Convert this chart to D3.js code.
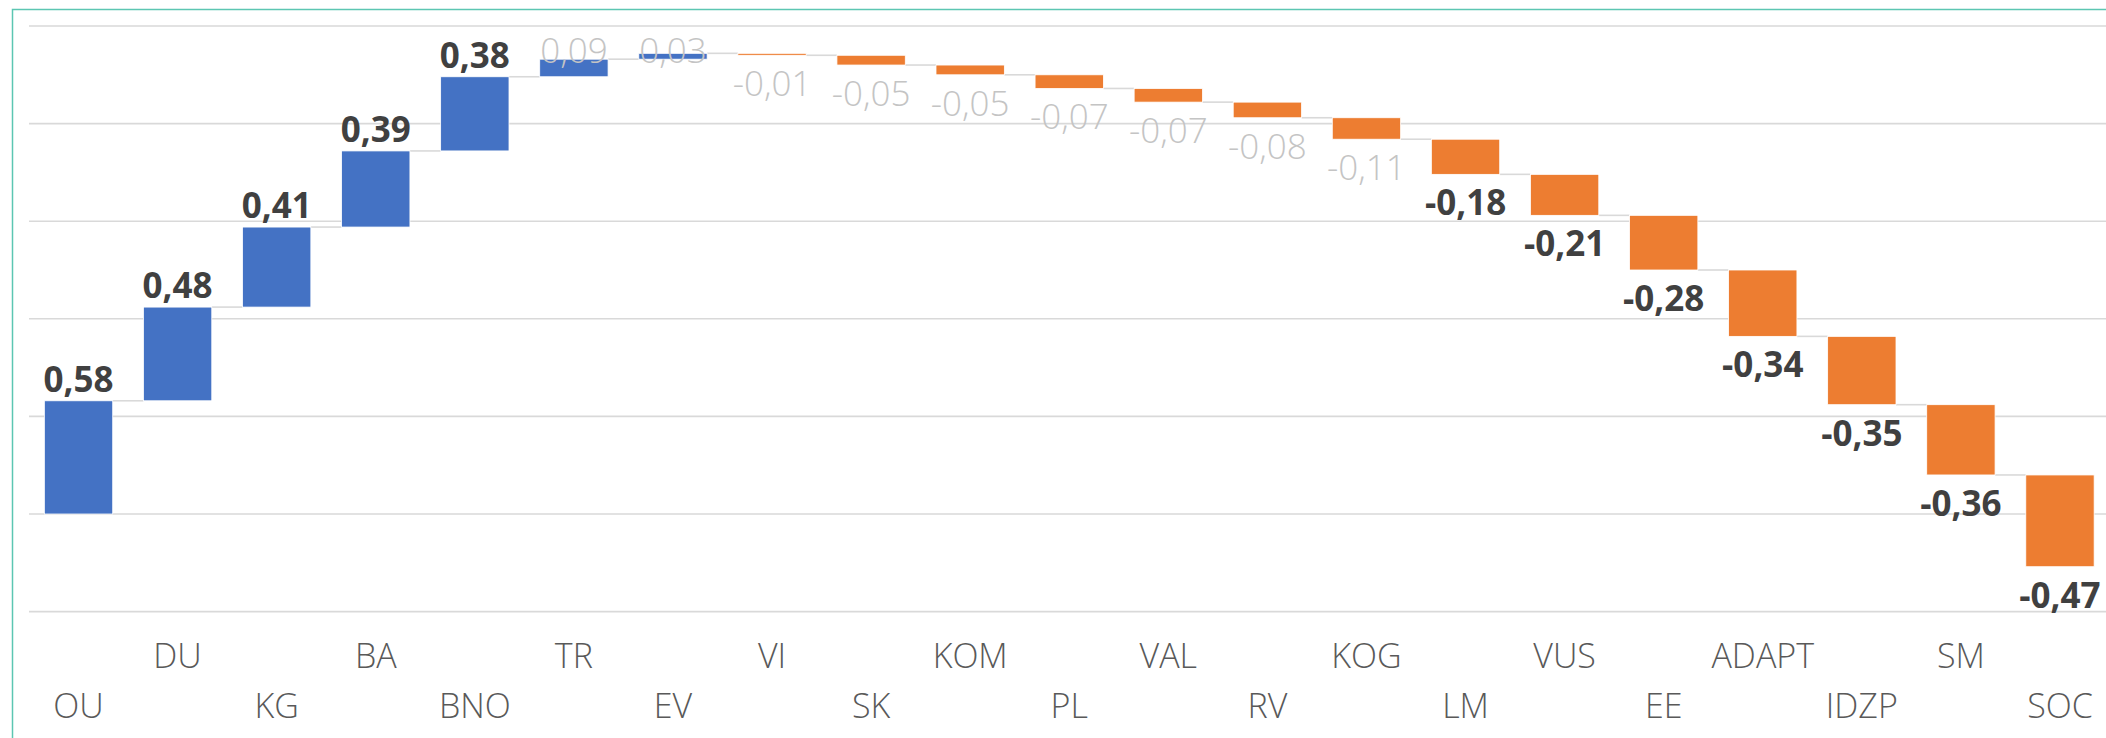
<!DOCTYPE html>
<html>
<head>
<meta charset="utf-8">
<script src="https://cdn.jsdelivr.net/npm/d3@7"></script>
<style>
  body { margin: 0; background: #fff; }
  svg { display: block; font-family: "Open Sans", "Segoe UI", sans-serif; }
</style>
</head>
<body>
<svg id="chart" width="2106" height="738"></svg>
<script>
var categories = ["OU", "DU", "KG", "BA", "BNO", "TR", "EV", "VI", "SK", "KOM", "PL",
                  "VAL", "RV", "KOG", "LM", "VUS", "EE", "ADAPT", "IDZP", "SM", "SOC"];
var values = [0.58, 0.48, 0.41, 0.39, 0.38, 0.09, 0.03, -0.01, -0.05, -0.05, -0.07,
              -0.07, -0.08, -0.11, -0.18, -0.21, -0.28, -0.34, -0.35, -0.36, -0.47];
var gridValues = [-0.5, 0, 0.5, 1, 1.5, 2, 2.5];

var width = 2106;
var height = 738;
var plot = {left: 29, right: 2109.5, top: 26, bottom: 611.6};
var strongThreshold = 0.15;

var svg = d3.select('#chart');

// outer frame, cut off on the right and bottom
svg.append('rect')
  .attr('x', 12.5)
  .attr('y', 9.5)
  .attr('width', width)
  .attr('height', height)
  .attr('fill', 'none')
  .attr('stroke', '#5cc6b2')
  .attr('stroke-width', 1.5);

var x = d3.scaleBand()
    .domain(categories)
    .range([plot.left, plot.right])
    .paddingInner(0.31)
    .paddingOuter(0.155);

var y = d3.scaleLinear()
    .domain([d3.min(gridValues), d3.max(gridValues)])
    .range([plot.bottom, plot.top]);

// running totals for the waterfall
var total = 0;
var steps = values.map(function(v, i) {
  var start = total;
  total = Math.round((total + v) * 100) / 100;
  return {name: categories[i], value: v, start: start, end: total, index: i};
});

svg.append('g')
    .attr('class', 'grid')
  .selectAll('line')
  .data(gridValues)
  .enter().append('line')
    .attr('x1', plot.left)
    .attr('x2', width)
    .attr('y1', function(d) { return y(d); })
    .attr('y2', function(d) { return y(d); })
    .attr('stroke', '#d9d9d9')
    .attr('stroke-width', 1.6);

svg.append('g')
    .attr('class', 'connectors')
  .selectAll('line')
  .data(steps.slice(0, -1))
  .enter().append('line')
    .attr('x1', function(d) { return x(d.name) + x.bandwidth(); })
    .attr('x2', function(d) { return x(categories[d.index + 1]); })
    .attr('y1', function(d) { return y(d.end); })
    .attr('y2', function(d) { return y(d.end); })
    .attr('stroke', '#d9d9d9')
    .attr('stroke-width', 1.6);

svg.append('g')
    .attr('class', 'bars')
  .selectAll('rect')
  .data(steps)
  .enter().append('rect')
    .attr('x', function(d) { return x(d.name); })
    .attr('width', x.bandwidth())
    .attr('y', function(d) { return y(Math.max(d.start, d.end)); })
    .attr('height', function(d) { return Math.abs(y(d.start) - y(d.end)); })
    .attr('fill', function(d) { return d.value >= 0 ? '#4472c4' : '#ed7d31'; })
    .attr('stroke', '#fff')
    .attr('stroke-width', 0.8);

// excel style: comma decimal, plain hyphen for minus
var fmt = function(v) { return d3.format('.2f')(v).replace('.', ',').replace('\u2212', '-'); };

svg.append('g')
    .attr('class', 'labels')
  .selectAll('text')
  .data(steps)
  .enter().append('text')
    .attr('x', function(d) { return x(d.name) + x.bandwidth() / 2; })
    .attr('y', function(d) {
      if (d.value >= 0) {
        return Math.max(y(d.end) - 9, plot.top + 37);
      }
      return y(d.end) + 41;
    })
    .attr('text-anchor', 'middle')
    .style('font-size', '35px')
    .style('font-weight', function(d) { return Math.abs(d.value) >= strongThreshold ? 700 : 300; })
    .style('fill', function(d) { return Math.abs(d.value) >= strongThreshold ? '#404040' : '#c4c4c4'; })
    .text(function(d) { return fmt(d.value); });

// category labels, staggered on two rows
svg.append('g')
    .attr('class', 'axis')
  .selectAll('text')
  .data(categories)
  .enter().append('text')
    .attr('x', function(d) { return x(d) + x.bandwidth() / 2; })
    .attr('y', function(d, i) { return i % 2 === 0 ? 718 : 668; })
    .attr('text-anchor', 'middle')
    .style('font-size', '34px')
    .style('font-weight', 300)
    .style('fill', '#595959')
    .text(function(d) { return d; });
</script>
</body>
</html>
